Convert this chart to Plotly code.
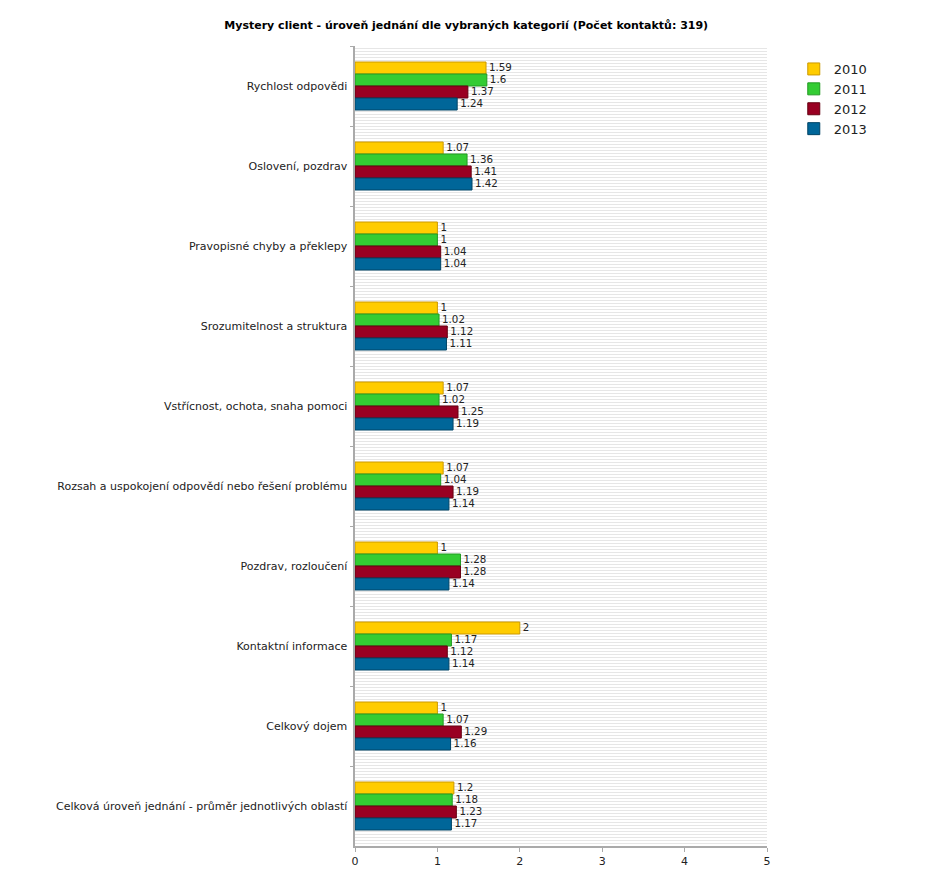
import plotly.graph_objects as go

categories = [
    "Rychlost odpovědi",
    "Oslovení, pozdrav",
    "Pravopisné chyby a překlepy",
    "Srozumitelnost a struktura",
    "Vstřícnost, ochota, snaha pomoci",
    "Rozsah a uspokojení odpovědí nebo řešení problému",
    "Pozdrav, rozloučení",
    "Kontaktní informace",
    "Celkový dojem",
    "Celková úroveň jednání - průměr jednotlivých oblastí",
]
years = ["2010", "2011", "2012", "2013"]
v2010 = [1.59, 1.07, 1, 1, 1.07, 1.07, 1, 2, 1, 1.2]
v2011 = [1.6, 1.36, 1, 1.02, 1.02, 1.04, 1.28, 1.17, 1.07, 1.18]
v2012 = [1.37, 1.41, 1.04, 1.12, 1.25, 1.19, 1.28, 1.12, 1.29, 1.23]
v2013 = [1.24, 1.42, 1.04, 1.11, 1.19, 1.14, 1.14, 1.14, 1.16, 1.17]
series = [v2010, v2011, v2012, v2013]
colors = ["#ffcc00", "#33cc33", "#990022", "#006699"]
edge = ["#cc9900", "#229922", "#660011", "#004466"]

fig = go.Figure()
# striped background helper
fig.add_trace(go.Scatter(x=[0], y=[0], xaxis="x", yaxis="y2", mode="markers",
                         marker=dict(opacity=0), showlegend=False, hoverinfo="skip"))
for name, vals, c, e in zip(years, series, colors, edge):
    fig.add_trace(go.Bar(
        y=categories, x=vals, name=name, orientation="h",
        marker=dict(color=c, line=dict(color=e, width=1)),
        text=[str(v) for v in vals], textposition="outside",
        textfont=dict(size=12, color="#222222"), cliponaxis=False,
    ))

W, H = 922, 863
fig.update_layout(
    width=W, height=H,
    margin=dict(l=347, r=163, t=38, b=25),
    paper_bgcolor="white", plot_bgcolor="white",
    font=dict(family="DejaVu Sans", size=11, color="#222222"),
    title=dict(text="<b>Mystery client - úroveň jednání dle vybraných kategorií (Počet kontaktů: 319)</b>",
               x=0.497, xanchor="center", y=1 - 17 / H, yref="container", yanchor="middle",
               font=dict(size=11, color="#000")),
    barmode="group", bargap=0.4, bargroupgap=0,
    xaxis=dict(range=[0, 5], dtick=1, showgrid=False, zeroline=False, automargin=False,
               showline=True, linecolor="#aaaaaa", linewidth=2, ticks="outside",
               tickcolor="#aaaaaa", ticklen=4, tickfont=dict(size=11, color="#222")),
    yaxis=dict(autorange="reversed", showgrid=False, showline=True, linecolor="#aaaaaa",
               automargin=False,
               linewidth=2, ticks="outside", tickson="boundaries", ticklen=3, tickcolor="#aaaaaa",
               tickfont=dict(size=11, color="#222"), ticksuffix=" "),
    yaxis2=dict(overlaying="y", range=[0, 800/3], dtick=1, showgrid=True, gridcolor="#e6e6e6",
                gridwidth=1, showticklabels=False, zeroline=False, showline=False, ticks="",
                automargin=False),
    legend=dict(x=1.065, y=0.99, xanchor="left", yanchor="top", traceorder="normal",
                font=dict(size=13, color="#222"), bgcolor="rgba(0,0,0,0)", itemwidth=30,
                tracegroupgap=0),
    showlegend=True,
)
fig.write_html("out.html")
